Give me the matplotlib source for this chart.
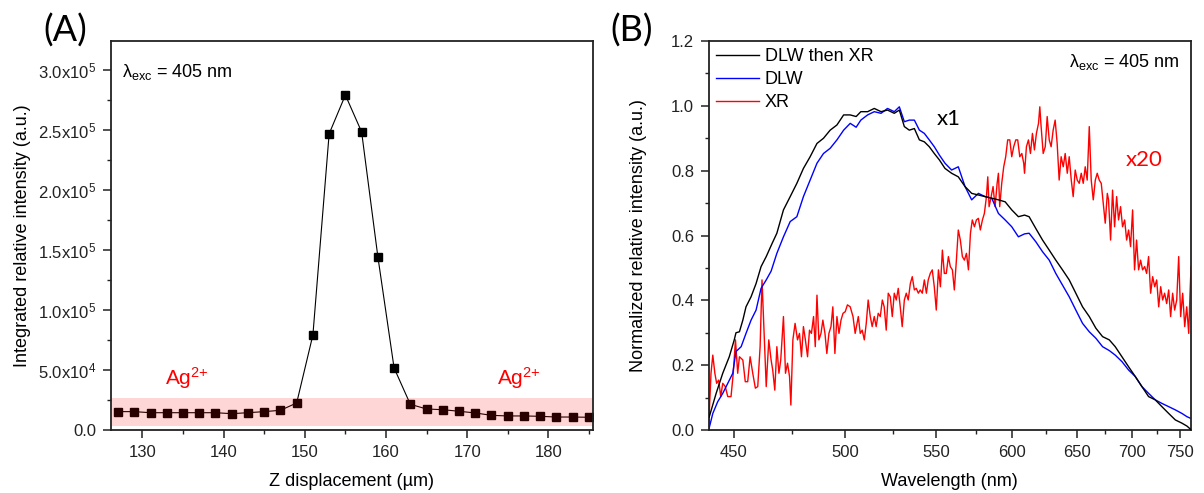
import numpy as np
import matplotlib
matplotlib.use("Agg")
import matplotlib.pyplot as plt
from matplotlib.ticker import MultipleLocator, FixedLocator, FuncFormatter

plt.rcParams["font.family"] = ["Liberation Sans", "DejaVu Sans"]
plt.rcParams["mathtext.default"] = "regular"

# ---- panel A: integrated intensity vs Z displacement ----
z_um = [127, 129, 131, 133, 135, 137, 139, 141, 143, 145, 147, 149, 151, 153, 155,
        157, 159, 161, 163, 165, 167, 169, 171, 173, 175, 177, 179, 181, 183, 185]
intensity = [15300, 15300, 14400, 14400, 14400, 14400, 14400, 13600, 14400, 15300,
             16400, 22500, 79200, 246700, 279000, 248300, 144400, 51700, 21400, 17500,
             16900, 15600, 14200, 12200, 11700, 11700, 11400, 10800, 10800, 10600]
band_lo, band_hi = 3600, 26900

# ---- panel B: normalized spectra ----
wl_dlw_xr = [440.3, 443.0, 445.6, 448.2, 450.2, 450.9, 452.3, 453.7, 455.0, 457.1,
             459.2, 461.3, 463.5, 466.0, 468.1, 471.0, 474.0, 477.0, 480.0, 483.1,
             486.3, 489.4, 492.6, 495.9, 499.2, 502.5, 505.5, 507.9, 511.4, 514.9,
             518.5, 522.0, 525.7, 528.5, 531.3, 534.1, 537.0, 539.9, 542.8, 545.7,
             548.7, 551.8, 555.2, 559.3, 563.5, 567.8, 572.1, 576.5, 581.0, 585.5,
             590.1, 594.8, 599.5, 604.3, 608.8, 612.2, 617.2, 622.4, 627.6, 632.8,
             638.2, 643.7, 649.2, 654.9, 660.7, 666.5, 672.5, 678.6, 684.1, 690.4,
             696.8, 703.3, 709.9, 716.7, 723.6, 730.6, 737.9, 745.2, 752.6, 758.3, 762.5]
dlw_xr = [0.040, 0.113, 0.175, 0.226, 0.278, 0.300, 0.303, 0.339, 0.380, 0.411,
          0.452, 0.504, 0.535, 0.575, 0.607, 0.679, 0.720, 0.761, 0.807, 0.843,
          0.884, 0.900, 0.925, 0.941, 0.972, 0.972, 0.967, 0.982, 0.982, 0.992,
          0.982, 0.987, 0.977, 0.987, 0.936, 0.925, 0.930, 0.895, 0.889, 0.874,
          0.853, 0.833, 0.807, 0.792, 0.781, 0.751, 0.730, 0.725, 0.720, 0.715,
          0.710, 0.704, 0.679, 0.658, 0.663, 0.658, 0.622, 0.586, 0.555, 0.524,
          0.494, 0.463, 0.422, 0.380, 0.350, 0.314, 0.288, 0.278, 0.257, 0.226,
          0.195, 0.165, 0.134, 0.103, 0.093, 0.072, 0.051, 0.031, 0.021, 0.012, 0.002]

wl_dlw = [440.1, 441.7, 443.6, 445.6, 447.6, 449.6, 450.9, 453.0, 455.0, 457.1,
          459.2, 461.3, 463.5, 465.6, 468.1, 471.0, 474.0, 477.0, 480.0, 483.1,
          486.3, 489.4, 492.6, 495.9, 499.2, 502.5, 505.5, 507.9, 511.4, 514.9,
          518.5, 522.0, 525.7, 528.5, 531.3, 534.1, 537.0, 539.9, 542.8, 545.7,
          548.7, 551.8, 555.2, 559.3, 563.5, 567.8, 572.1, 576.5, 581.0, 585.5,
          590.1, 594.8, 599.5, 604.3, 608.8, 612.2, 617.2, 622.4, 627.6, 632.8,
          638.2, 643.7, 649.2, 654.9, 660.7, 666.5, 672.5, 678.6, 684.1, 690.4,
          696.8, 703.3, 709.9, 716.7, 723.6, 730.6, 737.9, 745.2, 752.6, 758.3, 762.5]
dlw = [0.000, 0.051, 0.087, 0.113, 0.144, 0.175, 0.242, 0.257, 0.298, 0.339,
       0.370, 0.437, 0.463, 0.490, 0.545, 0.596, 0.643, 0.658, 0.720, 0.771,
       0.823, 0.853, 0.869, 0.895, 0.925, 0.946, 0.934, 0.956, 0.972, 0.982,
       0.977, 0.992, 0.982, 0.997, 0.951, 0.956, 0.956, 0.925, 0.915, 0.895,
       0.874, 0.848, 0.823, 0.802, 0.812, 0.751, 0.710, 0.730, 0.720, 0.715,
       0.668, 0.648, 0.627, 0.596, 0.605, 0.607, 0.581, 0.550, 0.524, 0.483,
       0.447, 0.411, 0.370, 0.329, 0.303, 0.283, 0.257, 0.245, 0.231, 0.211,
       0.185, 0.165, 0.134, 0.113, 0.093, 0.082, 0.072, 0.062, 0.051, 0.041, 0.036]

wl_xr = [440.1, 441.0, 441.7, 442.5, 443.2, 444.0, 444.8, 445.6, 446.6, 447.6,
         448.9, 449.8, 450.7, 451.6, 452.3, 453.7, 454.7, 455.7, 456.7, 457.8,
         458.9, 459.9, 460.9, 461.7, 462.7, 463.5, 464.6, 465.6, 466.3, 467.2,
         468.1, 469.0, 469.8, 471.0, 471.9, 472.8, 473.7, 474.3, 475.2, 476.2,
         477.3, 478.2, 479.1, 480.0, 480.9, 481.9, 482.8, 483.7, 484.7, 485.5,
         486.3, 487.2, 488.2, 489.1, 490.1, 491.0, 492.0, 493.0, 493.9, 494.9,
         495.9, 496.9, 497.9, 498.9, 500.0, 501.1, 502.5, 503.9, 505.0, 506.6,
         507.6, 508.6, 509.7, 510.7, 511.7, 512.8, 513.8, 514.9, 515.9, 517.0,
         518.1, 519.2, 520.2, 521.3, 522.4, 523.5, 524.6, 525.7, 526.8, 527.9,
         529.0, 530.1, 531.3, 532.4, 533.5, 534.7, 535.8, 537.0, 538.1, 539.3,
         540.4, 541.6, 542.8, 544.0, 545.1, 546.3, 547.5, 548.7, 549.9, 551.2,
         552.4, 553.6, 554.8, 556.0, 557.3, 558.5, 559.8, 561.0, 562.3, 563.5,
         564.8, 566.1, 567.4, 568.7, 570.0, 571.3, 572.5, 573.9, 575.2, 576.5,
         577.8, 579.2, 580.5, 581.9, 582.8, 583.7, 585.1, 586.4, 587.8, 589.2,
         590.1, 591.0, 592.4, 593.8, 595.2, 596.6, 598.1, 599.5, 600.9, 602.4,
         603.8, 605.3, 606.8, 608.2, 608.8, 610.2, 611.7, 613.2, 614.7, 616.2,
         617.7, 619.3, 620.3, 621.3, 622.9, 624.5, 626.0, 627.6, 629.1, 630.7,
         632.3, 633.9, 635.5, 637.1, 638.8, 640.4, 642.1, 643.7, 645.4, 647.0,
         648.7, 650.4, 652.1, 653.8, 655.5, 657.2, 658.9, 660.7, 662.4, 664.2,
         666.0, 667.7, 669.5, 671.3, 673.1, 674.9, 676.8, 677.9, 679.8, 681.6,
         683.5, 685.4, 687.2, 689.1, 691.0, 693.0, 694.9, 696.8, 698.7, 700.7,
         702.6, 704.6, 706.6, 708.6, 710.6, 712.7, 714.7, 716.7, 718.8, 720.9,
         723.0, 725.1, 727.2, 729.3, 731.4, 733.5, 735.7, 737.9, 740.0, 742.2,
         744.4, 746.7, 748.9, 751.1, 753.4, 755.7, 758.0, 760.3, 761.8, 763.0]
xr = [0.010, 0.175, 0.231, 0.175, 0.144, 0.154, 0.103, 0.144, 0.134, 0.103,
      0.103, 0.175, 0.278, 0.175, 0.226, 0.216, 0.149, 0.149, 0.226, 0.175,
      0.129, 0.134, 0.257, 0.463, 0.278, 0.134, 0.278, 0.216, 0.185, 0.123,
      0.257, 0.175, 0.216, 0.350, 0.175, 0.206, 0.165, 0.077, 0.278, 0.329,
      0.278, 0.298, 0.226, 0.319, 0.278, 0.226, 0.308, 0.298, 0.350, 0.257,
      0.416, 0.278, 0.298, 0.339, 0.298, 0.236, 0.298, 0.319, 0.380, 0.236,
      0.350, 0.298, 0.339, 0.360, 0.365, 0.386, 0.380, 0.350, 0.298, 0.350,
      0.298, 0.308, 0.278, 0.329, 0.401, 0.350, 0.319, 0.350, 0.319, 0.360,
      0.350, 0.401, 0.380, 0.308, 0.422, 0.411, 0.350, 0.422, 0.401, 0.437,
      0.380, 0.319, 0.401, 0.422, 0.401, 0.452, 0.473, 0.432, 0.437, 0.422,
      0.432, 0.422, 0.463, 0.422, 0.463, 0.483, 0.494, 0.442, 0.370, 0.494,
      0.442, 0.555, 0.483, 0.483, 0.535, 0.504, 0.494, 0.432, 0.524, 0.617,
      0.586, 0.535, 0.524, 0.545, 0.494, 0.607, 0.648, 0.627, 0.648, 0.653,
      0.617, 0.648, 0.668, 0.720, 0.781, 0.689, 0.720, 0.751, 0.689, 0.761,
      0.792, 0.689, 0.761, 0.812, 0.843, 0.895, 0.895, 0.843, 0.874, 0.895,
      0.895, 0.843, 0.853, 0.823, 0.792, 0.874, 0.895, 0.853, 0.915, 0.864,
      0.915, 0.946, 0.997, 0.936, 0.853, 0.874, 0.967, 0.895, 0.874, 0.925,
      0.956, 0.884, 0.771, 0.843, 0.812, 0.853, 0.792, 0.843, 0.771, 0.720,
      0.802, 0.771, 0.761, 0.792, 0.761, 0.812, 0.771, 0.936, 0.771, 0.710,
      0.771, 0.792, 0.771, 0.761, 0.699, 0.638, 0.730, 0.710, 0.586, 0.740,
      0.627, 0.720, 0.648, 0.689, 0.627, 0.648, 0.586, 0.617, 0.566, 0.679,
      0.494, 0.586, 0.494, 0.524, 0.494, 0.504, 0.483, 0.535, 0.422, 0.473,
      0.442, 0.463, 0.380, 0.442, 0.401, 0.422, 0.390, 0.432, 0.350, 0.422,
      0.370, 0.401, 0.535, 0.350, 0.422, 0.319, 0.380, 0.298, 0.422, 0.504]

wl_major = [450, 500, 550, 600, 650, 700, 750]
wl_minor = [475, 525, 575, 625, 675, 725]

TICK_FS = 12
LABEL_FS = 13


def sci_fmt(v, pos):
    if v == 0:
        return "0.0"
    exp = int(np.floor(np.log10(abs(v))))
    return f"{v / 10**exp:.1f}x10$^{{{exp}}}$"


def style_axis(ax):
    for s in ax.spines.values():
        s.set_linewidth(1.3)
        s.set_color("#222222")
    ax.tick_params(which="major", direction="out", length=6, width=1.1,
                   labelsize=TICK_FS, pad=4.5, colors="#222222")
    ax.tick_params(which="minor", direction="out", length=3, width=1.0,
                   colors="#222222")
    ax.tick_params(top=False, right=False, which="both")


fig = plt.figure(figsize=(12.04, 4.93), dpi=100)
axA = fig.add_axes([0.092, 0.1278, 0.4005, 0.789])
axB = fig.add_axes([0.5886, 0.1278, 0.4003, 0.789])

# panel A
axA.plot(z_um, intensity, color="black", lw=0.8, marker="s", ms=6.2,
         mfc="black", mec="black", zorder=2)
axA.axhspan(band_lo, band_hi, xmin=0.003, xmax=0.997, color="red", alpha=0.16,
            lw=0, zorder=3)
axA.set_xlim(126.1, 185.5)
axA.set_ylim(0, 3.24e5)
axA.xaxis.set_major_locator(MultipleLocator(10))
axA.xaxis.set_minor_locator(MultipleLocator(5))
axA.yaxis.set_major_locator(MultipleLocator(5e4))
axA.yaxis.set_minor_locator(MultipleLocator(2.5e4))
axA.yaxis.set_major_formatter(FuncFormatter(sci_fmt))
style_axis(axA)
axA.set_xlabel("Z displacement (µm)", fontsize=LABEL_FS, labelpad=10)
axA.set_ylabel("Integrated relative intensity (a.u.)", fontsize=LABEL_FS, labelpad=5)
axA.text(0.023, 0.92, "λ$_{exc}$ = 405 nm", transform=axA.transAxes,
         fontsize=13, va="center", ha="left")
axA.text(135.5, 43300, "Ag$^{2{+}}$", color="red", fontsize=15, ha="center", va="center")
axA.text(176.4, 43300, "Ag$^{2{+}}$", color="red", fontsize=15, ha="center", va="center")

# panel B (x axis linear in 1/wavelength)
axB.set_xscale("function", functions=(lambda x: -1e4 / np.asarray(x, float),
                                      lambda y: -1e4 / np.asarray(y, float)))
axB.plot(wl_dlw_xr, dlw_xr, color="black", lw=1.0, label="DLW then XR", zorder=3)
axB.plot(wl_dlw, dlw, color="#0000ff", lw=1.0, label="DLW", zorder=2)
axB.plot(wl_xr, xr, color="#ff0000", lw=1.0, label="XR", zorder=1)
axB.set_xlim(440.1, 762.5)
axB.set_ylim(0, 1.2)
axB.xaxis.set_major_locator(FixedLocator(wl_major))
axB.xaxis.set_minor_locator(FixedLocator(wl_minor))
axB.xaxis.set_major_formatter(FuncFormatter(lambda v, p: f"{v:.0f}"))
axB.xaxis.set_minor_formatter(FuncFormatter(lambda v, p: ""))
axB.yaxis.set_major_locator(MultipleLocator(0.2))
axB.yaxis.set_minor_locator(MultipleLocator(0.1))
axB.yaxis.set_major_formatter(FuncFormatter(lambda v, p: f"{v:.1f}"))
style_axis(axB)
axB.set_xlabel("Wavelength (nm)", fontsize=LABEL_FS, labelpad=10)
axB.set_ylabel("Normalized relative intensity (a.u.)", fontsize=LABEL_FS, labelpad=17)
axB.legend(loc="upper left", bbox_to_anchor=(0.0, 1.0), frameon=False,
           fontsize=LABEL_FS, handlelength=2.4, handletextpad=0.3,
           labelspacing=0.33, borderpad=0.3, borderaxespad=0.1)
axB.text(0.978, 0.946, "λ$_{exc}$ = 405 nm", transform=axB.transAxes,
         fontsize=13, va="center", ha="right")
axB.text(557.3, 0.96, "x1", fontsize=16, family="Lato", ha="center", va="center")
axB.text(712.7, 0.833, "x20", color="red", fontsize=16, family="Lato",
         ha="center", va="center")

fig.text(0.054, 0.937, "(A)", fontsize=26, family="Lato", ha="center", va="center")
fig.text(0.525, 0.937, "(B)", fontsize=26, family="Lato", ha="center", va="center")

fig.savefig("out.png", dpi=100)
